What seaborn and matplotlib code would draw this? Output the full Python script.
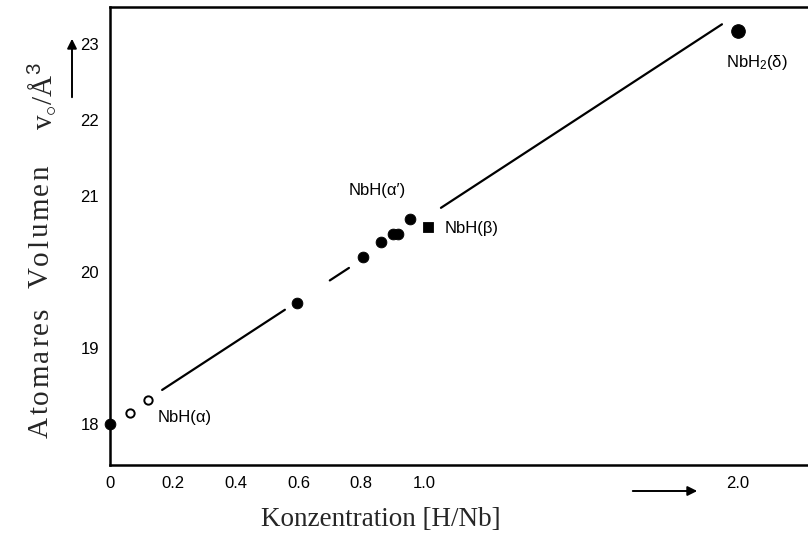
import matplotlib
matplotlib.use("Agg")
import matplotlib.pyplot as plt
import seaborn as sns
import pandas as pd

# Measured atomic volumes of Nb-H phases
conc_filled = [0.0, 0.596, 0.806, 0.863, 0.900, 0.917, 0.955]
vol_filled = [18.00, 19.59, 20.20, 20.39, 20.50, 20.50, 20.70]
conc_open = [0.064, 0.121]
vol_open = [18.14, 18.32]
conc_beta = [1.013]
vol_beta = [20.60]
conc_delta = [2.0]
vol_delta = [23.18]

# Linear trend v0 = a + b*c, drawn in broken pieces
fit_a, fit_b = 18.0, 2.70
fit_segments = [(0.166, 0.557), (0.700, 0.761), (1.054, 1.949)]

x_ticks = [0, 0.2, 0.4, 0.6, 0.8, 1.0, 2.0]
x_ticklabels = ["0", "0.2", "0.4", "0.6", "0.8", "1.0", "2.0"]
y_ticks = [18, 19, 20, 21, 22, 23]

labels = ["NbH(α)", "NbH(α′)", "NbH(β)", "NbH$_2$(δ)"]
label_x = [0.153, 0.76, 1.067, 1.962]
label_y = [18.08, 21.08, 20.57, 22.76]

x_title = "Konzentration [H/Nb]"
y_title = "Atomares Volumen"
y_unit = "v$_{\\circ}$/Å$^{3}$"

sns.set_style("white")
plt.rcParams["font.family"] = ["Liberation Sans", "DejaVu Sans"]
plt.rcParams["mathtext.fontset"] = "custom"
plt.rcParams["mathtext.rm"] = "Liberation Sans"
plt.rcParams["mathtext.it"] = "Liberation Sans:italic"

W, H = 808, 548
fig = plt.figure(figsize=(W / 100, H / 100), dpi=100)
ax = fig.add_axes([110 / W, 83 / H, 698 / W, 458 / H])

# trend line pieces
rows = []
for i, (x0, x1) in enumerate(fit_segments):
    for x in (x0, x1):
        rows.append({"c": x, "v": fit_a + fit_b * x, "seg": i})
seg_df = pd.DataFrame(rows)
sns.lineplot(data=seg_df, x="c", y="v", units="seg", estimator=None,
             color="black", linewidth=1.6, ax=ax, legend=False)

sns.scatterplot(x=conc_filled, y=vol_filled, color="black", s=60,
                edgecolor="black", ax=ax, zorder=5, clip_on=False)
sns.scatterplot(x=conc_open, y=vol_open, facecolor="white", s=36,
                edgecolor="black", linewidth=1.4, ax=ax, zorder=5)
sns.scatterplot(x=conc_beta, y=vol_beta, marker="s", color="black", s=55,
                edgecolor="black", ax=ax, zorder=5)
sns.scatterplot(x=conc_delta, y=vol_delta, color="black", s=95,
                edgecolor="black", ax=ax, zorder=5)

for t, x, y in zip(labels, label_x, label_y):
    ax.text(x, y, t, fontsize=12, ha="left", va="center", color="black")

ax.set_xlim(0, 2.223)
ax.set_ylim(17.46, 23.49)
ax.set_xticks(x_ticks)
ax.set_xticklabels(x_ticklabels)
ax.set_yticks(y_ticks)
ax.tick_params(axis="both", direction="inout", length=4, width=1.5,
               labelsize=12, colors="black", pad=6)
ax.set_xlabel("")
ax.set_ylabel("")
for side in ("left", "bottom", "top"):
    ax.spines[side].set_linewidth(1.8)
    ax.spines[side].set_color("black")
ax.spines["right"].set_visible(False)

fig.text(381 / W, 1 - 519 / H, x_title,
         family="Liberation Serif", fontsize=19.5, ha="center", va="center")

# letter-spaced vertical title, set glyph by glyph from bottom to top
renderer = fig.canvas.get_renderer()
title_x = 41 / W
start_px, end_px = 438, 165
space_px = 14
glyphs = []
for ch in y_title:
    if ch == " ":
        glyphs.append(None)
        continue
    t = fig.text(title_x, 0, ch, family="Liberation Serif", fontsize=21,
                 rotation=90, ha="center", va="bottom")
    glyphs.append(t)
advances = [g.get_window_extent(renderer).height if g is not None else 0
            for g in glyphs]
n_gaps = len(y_title) - 1
track = max(0.0, (start_px - end_px - sum(advances) - space_px) / n_gaps)
pos = start_px
for g, adv in zip(glyphs, advances):
    if g is None:
        pos -= space_px + track
        continue
    g.set_y(1 - pos / H)
    pos -= adv + track

fig.text(title_x, 1 - 130 / H, y_unit, family="Liberation Serif",
         fontsize=21, rotation=90, ha="center", va="bottom")

# direction arrows
fig.patches.append(matplotlib.patches.FancyArrowPatch(
    (72 / W, 1 - 100 / H), (72 / W, 1 - 36 / H),
    transform=fig.transFigure, arrowstyle="-|>", mutation_scale=14,
    color="black", linewidth=1.4))
fig.patches.append(matplotlib.patches.FancyArrowPatch(
    (630 / W, 1 - 491 / H), (700 / W, 1 - 491 / H),
    transform=fig.transFigure, arrowstyle="-|>", mutation_scale=14,
    color="black", linewidth=1.4))

fig.savefig("out.png", dpi=100)
